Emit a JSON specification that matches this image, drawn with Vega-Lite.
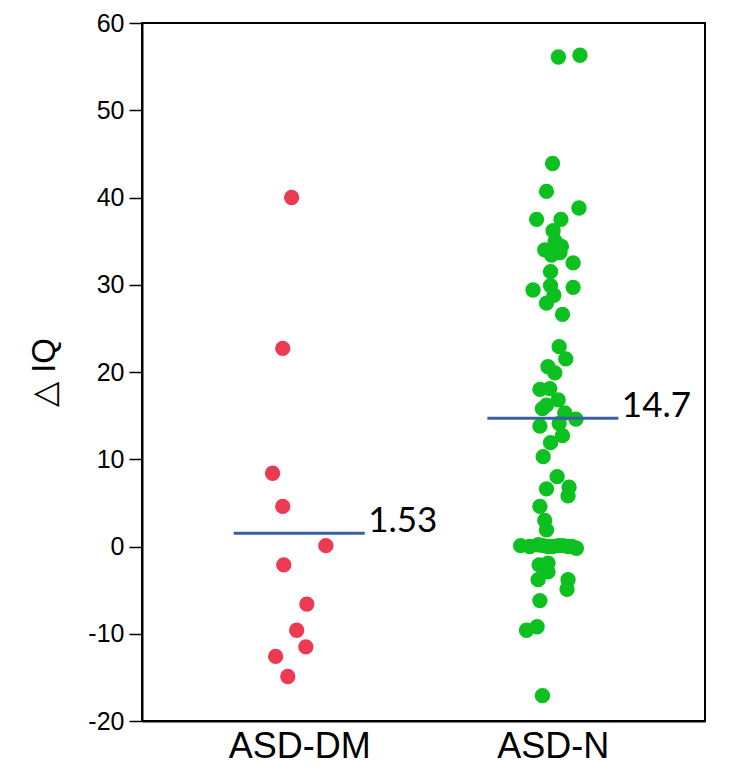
{
  "$schema": "https://vega.github.io/schema/vega-lite/v6.json",
  "width": 563,
  "height": 698,
  "autosize": "none",
  "padding": {"left": 142, "top": 23, "right": 28, "bottom": 49},
  "background": "white",
  "config": {
    "view": {"stroke": "black", "strokeWidth": 2},
    "axis": {"grid": false, "domainColor": "black", "domainWidth": 2, "tickColor": "black", "labelColor": "black", "titleColor": "black", "labelFont": "Liberation Sans", "titleFont": "Liberation Sans"}
  },
  "datasets": {
    "pts": [
      {"grp": "ASD-DM", "x": 0.970, "iq": 40.0},
      {"grp": "ASD-DM", "x": 0.935, "iq": 22.7},
      {"grp": "ASD-DM", "x": 0.895, "iq": 8.4},
      {"grp": "ASD-DM", "x": 0.935, "iq": 4.6},
      {"grp": "ASD-DM", "x": 1.105, "iq": 0.1},
      {"grp": "ASD-DM", "x": 0.939, "iq": -2.1},
      {"grp": "ASD-DM", "x": 1.030, "iq": -6.6},
      {"grp": "ASD-DM", "x": 0.990, "iq": -9.6},
      {"grp": "ASD-DM", "x": 1.026, "iq": -11.5},
      {"grp": "ASD-DM", "x": 0.907, "iq": -12.6},
      {"grp": "ASD-DM", "x": 0.955, "iq": -14.9},
      {"grp": "ASD-N", "x": 2.022, "iq": 56.1},
      {"grp": "ASD-N", "x": 2.107, "iq": 56.3},
      {"grp": "ASD-N", "x": 1.999, "iq": 43.9},
      {"grp": "ASD-N", "x": 1.975, "iq": 40.7},
      {"grp": "ASD-N", "x": 2.103, "iq": 38.8},
      {"grp": "ASD-N", "x": 1.936, "iq": 37.5},
      {"grp": "ASD-N", "x": 2.032, "iq": 37.5},
      {"grp": "ASD-N", "x": 2.001, "iq": 36.2},
      {"grp": "ASD-N", "x": 2.009, "iq": 35.0},
      {"grp": "ASD-N", "x": 2.034, "iq": 34.4},
      {"grp": "ASD-N", "x": 1.968, "iq": 34.0},
      {"grp": "ASD-N", "x": 1.995, "iq": 33.4},
      {"grp": "ASD-N", "x": 2.028, "iq": 33.7},
      {"grp": "ASD-N", "x": 2.080, "iq": 32.5},
      {"grp": "ASD-N", "x": 1.991, "iq": 31.5},
      {"grp": "ASD-N", "x": 1.922, "iq": 29.4},
      {"grp": "ASD-N", "x": 2.080, "iq": 29.7},
      {"grp": "ASD-N", "x": 1.991, "iq": 29.9},
      {"grp": "ASD-N", "x": 2.004, "iq": 28.8},
      {"grp": "ASD-N", "x": 1.975, "iq": 27.9},
      {"grp": "ASD-N", "x": 2.038, "iq": 26.6},
      {"grp": "ASD-N", "x": 2.025, "iq": 22.9},
      {"grp": "ASD-N", "x": 2.051, "iq": 21.5},
      {"grp": "ASD-N", "x": 1.981, "iq": 20.6},
      {"grp": "ASD-N", "x": 2.008, "iq": 19.9},
      {"grp": "ASD-N", "x": 1.949, "iq": 18.0},
      {"grp": "ASD-N", "x": 1.988, "iq": 18.1},
      {"grp": "ASD-N", "x": 2.021, "iq": 16.8},
      {"grp": "ASD-N", "x": 1.959, "iq": 15.8},
      {"grp": "ASD-N", "x": 1.975, "iq": 16.2},
      {"grp": "ASD-N", "x": 2.047, "iq": 15.3},
      {"grp": "ASD-N", "x": 2.091, "iq": 14.6},
      {"grp": "ASD-N", "x": 1.949, "iq": 13.8},
      {"grp": "ASD-N", "x": 2.025, "iq": 14.1},
      {"grp": "ASD-N", "x": 2.038, "iq": 12.7},
      {"grp": "ASD-N", "x": 1.991, "iq": 11.9},
      {"grp": "ASD-N", "x": 1.962, "iq": 10.3},
      {"grp": "ASD-N", "x": 2.017, "iq": 8.0},
      {"grp": "ASD-N", "x": 1.975, "iq": 6.6},
      {"grp": "ASD-N", "x": 2.064, "iq": 6.8},
      {"grp": "ASD-N", "x": 2.060, "iq": 5.8},
      {"grp": "ASD-N", "x": 1.949, "iq": 4.6},
      {"grp": "ASD-N", "x": 1.968, "iq": 3.0},
      {"grp": "ASD-N", "x": 1.975, "iq": 1.9},
      {"grp": "ASD-N", "x": 1.873, "iq": 0.1},
      {"grp": "ASD-N", "x": 1.942, "iq": 0.2},
      {"grp": "ASD-N", "x": 1.981, "iq": 0.0},
      {"grp": "ASD-N", "x": 2.021, "iq": 0.1},
      {"grp": "ASD-N", "x": 2.060, "iq": 0.0},
      {"grp": "ASD-N", "x": 2.093, "iq": -0.2},
      {"grp": "ASD-N", "x": 1.909, "iq": 0.0},
      {"grp": "ASD-N", "x": 1.961, "iq": 0.1},
      {"grp": "ASD-N", "x": 2.000, "iq": 0.0},
      {"grp": "ASD-N", "x": 2.039, "iq": 0.1},
      {"grp": "ASD-N", "x": 2.075, "iq": 0.0},
      {"grp": "ASD-N", "x": 1.946, "iq": -2.1},
      {"grp": "ASD-N", "x": 1.981, "iq": -1.9},
      {"grp": "ASD-N", "x": 1.942, "iq": -3.8},
      {"grp": "ASD-N", "x": 1.981, "iq": -2.9},
      {"grp": "ASD-N", "x": 2.060, "iq": -3.8},
      {"grp": "ASD-N", "x": 2.056, "iq": -4.9},
      {"grp": "ASD-N", "x": 1.949, "iq": -6.2},
      {"grp": "ASD-N", "x": 1.896, "iq": -9.6},
      {"grp": "ASD-N", "x": 1.938, "iq": -9.2},
      {"grp": "ASD-N", "x": 1.959, "iq": -17.1}
    ],
    "means": [
      {"x": 1, "mean": 1.53, "label": "1.53"},
      {"x": 2, "mean": 14.7, "label": "14.7"}
    ]
  },
  "layer": [
    {
      "data": {"name": "pts"},
      "mark": {"type": "circle", "size": 235, "opacity": 1},
      "encoding": {
        "x": {
          "field": "x", "type": "quantitative",
          "scale": {"domain": [0.38, 2.6], "nice": false, "zero": false},
          "axis": {"values": [1, 2], "labelExpr": "datum.value == 1 ? 'ASD-DM' : 'ASD-N'", "ticks": false, "labelFontSize": 36, "labelPadding": 8, "labelBaseline": "top", "title": null}
        },
        "y": {
          "field": "iq", "type": "quantitative",
          "scale": {"domain": [-20, 60], "nice": false, "zero": false},
          "axis": {"values": [-20, -10, 0, 10, 20, 30, 40, 50, 60], "labelExpr": "'' + datum.value", "tickSize": 13, "tickWidth": 1.5, "labelFontSize": 25, "labelPadding": 5, "title": "△ IQ", "titleFontSize": 33, "titleFontWeight": "normal", "titlePadding": 26}
        },
        "color": {
          "field": "grp", "type": "nominal",
          "scale": {"domain": ["ASD-DM", "ASD-N"], "range": ["#ec3a52", "#0cc11f"]},
          "legend": null
        }
      }
    },
    {
      "data": {"name": "means"},
      "mark": {"type": "tick", "orient": "horizontal", "size": 131, "thickness": 3, "color": "#3b5fa3", "opacity": 1},
      "encoding": {
        "x": {"field": "x", "type": "quantitative"},
        "y": {"field": "mean", "type": "quantitative"}
      }
    },
    {
      "data": {"name": "means"},
      "mark": {"type": "text", "align": "left", "baseline": "alphabetic", "dx": 69, "dy": -1, "fontSize": 35, "font": "Lato", "color": "black"},
      "encoding": {
        "x": {"field": "x", "type": "quantitative"},
        "y": {"field": "mean", "type": "quantitative"},
        "text": {"field": "label"}
      }
    }
  ]
}
